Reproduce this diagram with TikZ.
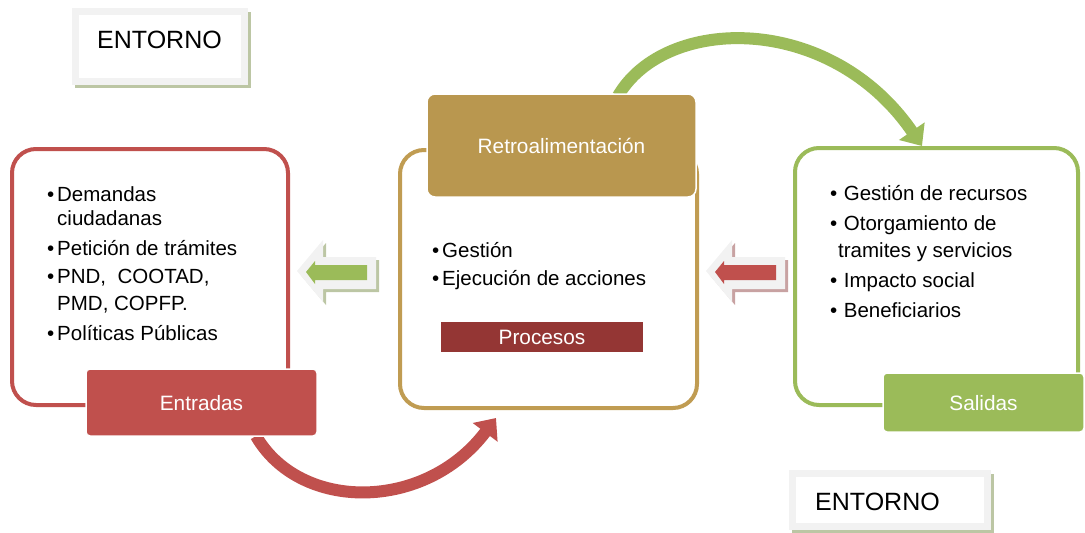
\documentclass[tikz,border=0pt]{standalone}
\usepackage{fontspec}
\setmainfont{Liberation Sans}
\usetikzlibrary{arrows.meta}
\definecolor{cred}{HTML}{C0504D}
\definecolor{cgold}{HTML}{C09C52}
\definecolor{cgoldfill}{HTML}{B9974F}
\definecolor{cproc}{HTML}{943634}
\definecolor{cgreen}{HTML}{9BBB59}
\definecolor{cframe}{HTML}{F2F2F2}
\definecolor{cshadowg}{HTML}{BCC6A4}
\definecolor{cshadowr}{HTML}{C8A2A2}
\newcommand\bul[1][10pt]{\makebox[#1][l]{•}}
\tikzset{
  panel/.style={draw, line width=4pt, rounded corners=24pt, anchor=north west, inner sep=0pt, outer sep=0pt, fill=white},
  tab/.style={draw=white, line width=1.5pt, rounded corners=4pt, anchor=north west, inner sep=0pt, outer sep=0pt, text=white,
    font=\fontsize{20.8}{24}\selectfont, text height=15pt, text depth=0pt},
  txt/.style={anchor=base west, inner sep=0pt, font=\fontsize{20.5}{24}\selectfont},
  envtxt/.style={anchor=base west, inner sep=0pt, font=\fontsize{25}{30}\selectfont},
  curvearrow/.style={line width=12pt, -{Triangle[width=30pt,length=18pt]}},
}
\begin{document}
\begin{tikzpicture}[x=1pt,y=-1pt]
\useasboundingbox (0,0) rectangle (1085,533);
% ENTORNO boxes
\fill[cshadowg] (75,12) rectangle (251,88);
\node[fill=cframe, anchor=north west, inner sep=0pt, minimum width=176pt, minimum height=77pt] (env1frame) at (72,8) {};
\node[fill=white, anchor=north west, inner sep=0pt, minimum width=162pt, minimum height=63pt] (env1) at (79,15) {};
\node[envtxt] (env1txt) at (97,48) {ENTORNO};
\fill[cshadowg] (792,474) rectangle (994,533);
\node[fill=cframe, anchor=north west, inner sep=0pt, minimum width=202pt, minimum height=60pt] (env2frame) at (789,470) {};
\node[fill=white, anchor=north west, inner sep=0pt, minimum width=188pt, minimum height=46pt] (env2) at (796,477) {};
\node[envtxt] (env2txt) at (815,510) {ENTORNO};
% green curved arrow (behind header)
\coordinate (gstart) at (618,96);
\coordinate (gend) at (922,146);
\draw[curvearrow, cgreen] (gstart) .. controls (665,15) and (830,12) .. (gend);
% red curved arrow
\coordinate (rstart) at (256,436);
\coordinate (rend) at (496,418);
\draw[curvearrow, cred] (rstart) .. controls (300,512) and (425,512) .. (rend);
% panels
\node[panel, draw=cred, minimum width=276pt, minimum height=256pt] (inbox) at (12,149) {};
\node[panel, draw=cgold, minimum width=297pt, minimum height=258pt] (procbox) at (400,150) {};
\node[panel, draw=cgreen, minimum width=283pt, minimum height=257pt] (outbox) at (795,148) {};
% tabs
\node[tab, fill=cred, minimum width=231pt, minimum height=67pt] (entradas) at (86,369) {Entradas};
\node[tab, fill=cgoldfill, minimum width=269pt, minimum height=103pt, rounded corners=8pt] (retro) at (427,94) {Retroalimentación};
\node[tab, fill=cproc, rounded corners=0pt, line width=0pt, draw=none, minimum width=202pt, minimum height=30pt] (procesos) at (441,322) {Procesos};
\node[tab, fill=cgreen, minimum width=201pt, minimum height=59pt] (salidas) at (883,373) {Salidas};
% bullet texts: inputs
\node[txt] (i1) at (47,201) {\bul Demandas};
\node[txt] (i1b) at (57,225) {ciudadanas};
\node[txt] (i2) at (47,255) {\bul Petición de trámites};
\node[txt] (i3) at (47,283) {\bul PND,\ \ COOTAD,};
\node[txt] (i3b) at (57,310) {PMD, COPFP.};
\node[txt] (i4) at (47,340) {\bul Políticas Públicas};
% process texts
\node[txt] (p1) at (432,257) {\bul Gestión};
\node[txt] (p2) at (432,285) {\bul Ejecución de acciones};
% output texts
\node[txt] (o1) at (830,200) {\bul[8pt] Gestión de recursos};
\node[txt] (o2) at (830,230) {\bul[8pt] Otorgamiento de};
\node[txt] (o2b) at (838,257) {tramites y servicios};
\node[txt] (o3) at (830,287) {\bul[8pt] Impacto social};
\node[txt] (o4) at (830,317) {\bul[8pt] Beneficiarios};
% block arrows (left: green)
\fill[cshadowg] (300,274) -- (326,243) -- (326,260) -- (379,260) -- (379,292) -- (326,292) -- (326,305) -- cycle;
\fill[cframe] (297,271) -- (323,240) -- (323,257) -- (376,257) -- (376,289) -- (323,289) -- (323,302) -- cycle;
\fill[cgreen] (306,272) -- (315,261) -- (315,265) -- (367,265) -- (367,280) -- (315,280) -- (315,284) -- cycle;
% block arrows (right: red)
\begin{scope}[xshift=409pt]
\fill[cshadowr] (300,274) -- (326,243) -- (326,260) -- (379,260) -- (379,292) -- (326,292) -- (326,305) -- cycle;
\fill[cframe] (297,271) -- (323,240) -- (323,257) -- (376,257) -- (376,289) -- (323,289) -- (323,302) -- cycle;
\fill[cred] (306,272) -- (315,261) -- (315,265) -- (367,265) -- (367,280) -- (315,280) -- (315,284) -- cycle;
\end{scope}
\end{tikzpicture}
\end{document}
